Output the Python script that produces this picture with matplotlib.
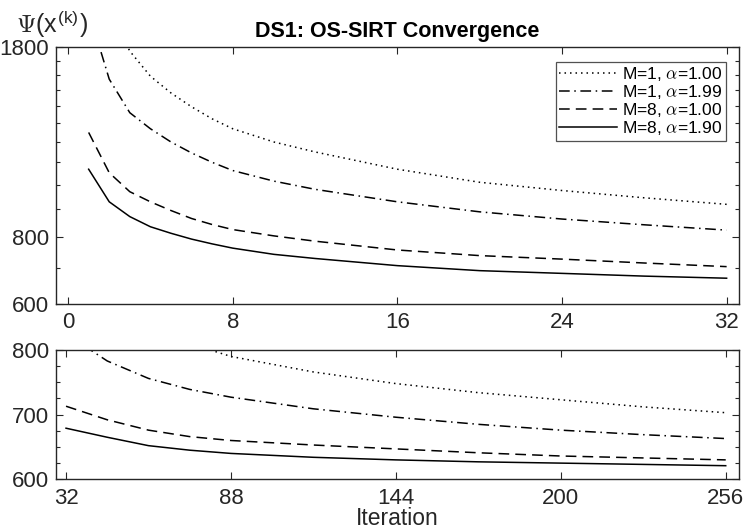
import matplotlib
matplotlib.use("Agg")
import matplotlib.pyplot as plt
import matplotlib.ticker as mticker
import numpy as np

plt.rcParams['font.family'] = ['Liberation Sans', 'DejaVu Sans']
plt.rcParams['mathtext.fontset'] = 'cm'

# 데이터
# 위쪽 패널: iteration 1~32, log scale
iter_top = [1, 2, 3, 4, 5, 6, 7, 8, 10, 12, 16, 20, 24, 28, 32]
m1_a100_top = [2900, 2100, 1770, 1590, 1480, 1395, 1325, 1270, 1200, 1150, 1068, 1010, 975, 945, 919]
m1_a199_top = [2100, 1570, 1360, 1270, 1200, 1145, 1100, 1062, 1015, 980, 929, 890, 863, 842, 823]
m8_a100_top = [1250, 1052, 970, 929, 895, 865, 843, 825, 803, 785, 756, 738, 727, 715, 704]
m8_a190_top = [1068, 929, 872, 835, 812, 792, 776, 762, 742, 729, 707, 692, 684, 676, 670]

# 아래쪽 패널: iteration 32~256
iter_bot = [32, 46, 60, 74, 88, 116, 144, 172, 200, 228, 256]
m1_a100_bot = [920, 870, 838, 810, 790, 766, 748, 734, 723, 712, 703]
m1_a199_bot = [825, 783, 756, 739, 727, 709, 696, 685, 676, 669, 663]
m8_a100_bot = [713, 692, 676, 666, 660, 653, 647, 641, 636, 633, 630]
m8_a190_bot = [679, 665, 652, 645, 640, 634, 630, 627, 625, 623, 621]

labels = [r'M=1, $\alpha$=1.00', r'M=1, $\alpha$=1.99',
          r'M=8, $\alpha$=1.00', r'M=8, $\alpha$=1.90']
dash_styles = [(0, (1, 2.6)), (0, (7, 3, 1, 3)), (0, (7, 4)), '-']

xticks_top = [0, 8, 16, 24, 32]
xticks_bot = [32, 88, 144, 200, 256]

fig = plt.figure(figsize=(7.5, 5.31), dpi=100)
ax1 = fig.add_axes([0.0743, 0.4275, 0.911, 0.4836])
ax2 = fig.add_axes([0.0743, 0.0974, 0.911, 0.2435])

axis_col = '#262626'


def style_axis(ax):
    ax.tick_params(which='both', direction='in', top=True, right=True,
                   colors=axis_col, labelsize=16, width=0.8)
    ax.tick_params(which='major', length=5)
    ax.tick_params(which='minor', length=3)
    ax.tick_params(axis='x', pad=6)
    ax.tick_params(axis='y', pad=5)
    for s in ax.spines.values():
        s.set_color(axis_col)
        s.set_linewidth(1.0)


# 위쪽 그래프 ##############################################
top_series = [m1_a100_top, m1_a199_top, m8_a100_top, m8_a190_top]
for vals, ls, lab in zip(top_series, dash_styles, labels):
    ax1.plot(iter_top, vals, color='black', linestyle=ls, linewidth=1.1, label=lab)

ax1.set_yscale('log')
ax1.set_ylim(600, 1800)
ax1.set_xlim(-0.6, 32.6)
ax1.set_xticks(xticks_top)
ax1.yaxis.set_major_locator(mticker.FixedLocator([600, 800, 1800]))
ax1.yaxis.set_major_formatter(mticker.FixedFormatter(['600', '800', '1800']))
ax1.yaxis.set_minor_locator(mticker.FixedLocator([700] + list(range(900, 1800, 100))))
ax1.yaxis.set_minor_formatter(mticker.NullFormatter())
style_axis(ax1)

leg = ax1.legend(loc='upper right', bbox_to_anchor=(0.9805, 0.944), fontsize=12.5,
                 frameon=True, fancybox=False, handlelength=3.3, handletextpad=0.3,
                 labelspacing=0.0, borderpad=0.2, borderaxespad=0)
leg.get_frame().set_edgecolor(axis_col)
leg.get_frame().set_linewidth(0.9)

ax1.set_title('DS1: OS-SIRT Convergence', fontsize=15.5, fontweight='bold', pad=7)

# 아래쪽 그래프 ############################################
bot_series = [m1_a100_bot, m1_a199_bot, m8_a100_bot, m8_a190_bot]
for vals, ls in zip(bot_series, dash_styles):
    ax2.plot(iter_bot, vals, color='black', linestyle=ls, linewidth=1.1)

ax2.set_ylim(600, 800)
ax2.set_xlim(28.5, 260.5)
ax2.set_xticks(xticks_bot)
ax2.set_yticks([600, 700, 800])
ax2.yaxis.set_minor_locator(mticker.MultipleLocator(25))
style_axis(ax2)
ax2.set_xlabel('Iteration', fontsize=16.5, color=axis_col, labelpad=-1)

fig.text(0.022, 0.955, r'$\Psi$(x$^{\mathregular{(k)}}$)', fontsize=18,
         color=axis_col, va='center', ha='left')

plt.savefig('out.png', dpi=100)
